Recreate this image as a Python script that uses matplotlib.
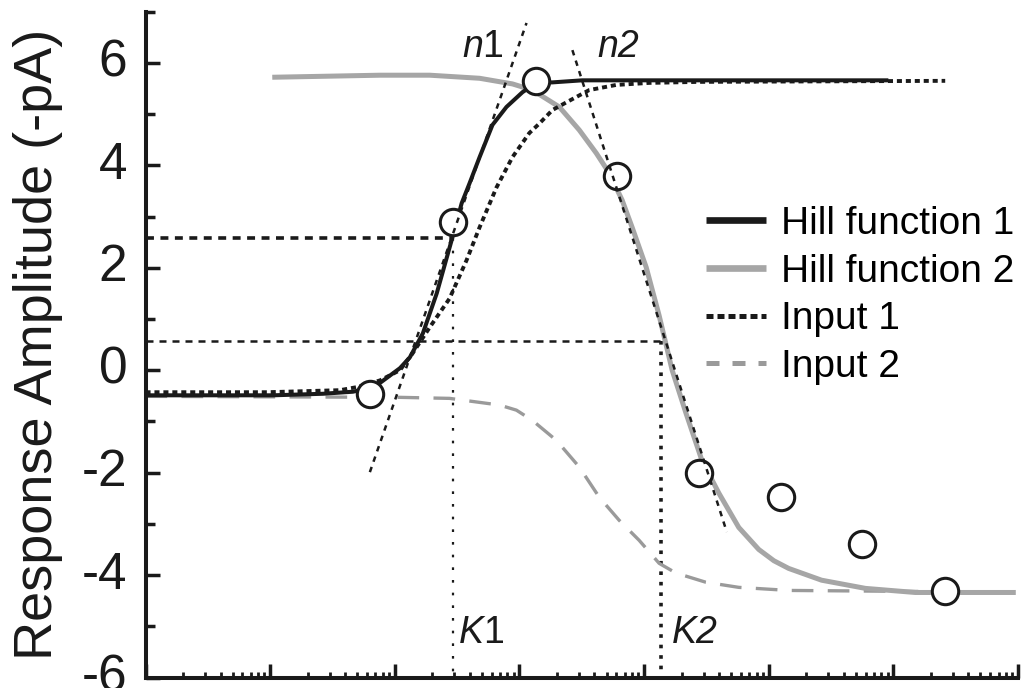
import matplotlib
matplotlib.use("Agg")
import matplotlib.pyplot as plt
from matplotlib.lines import Line2D
from matplotlib.ticker import LogLocator, MultipleLocator, NullFormatter

plt.rcParams["font.family"] = ["Liberation Sans", "DejaVu Sans"]
plt.rcParams["mathtext.fontset"] = "custom"
plt.rcParams["mathtext.rm"] = "Liberation Sans"
plt.rcParams["mathtext.it"] = "Liberation Sans:italic"
plt.rcParams["axes.unicode_minus"] = False
plt.rcParams["ytick.alignment"] = "center"

# ---- data -------------------------------------------------------------
# Hill function 1 (fit to the rising phase)
hill1_x = [0.01, 0.106, 0.265, 0.461, 0.631, 0.759, 1.10, 1.32, 1.68, 2.17,
           2.86, 3.44, 3.98, 4.79, 6.08, 7.87, 10.6, 13.7, 18.4, 31.9, 9120]
hill1_y = [-0.49, -0.49, -0.46, -0.42, -0.35, -0.25, 0.04, 0.25, 0.72, 1.50,
           2.54, 3.26, 3.65, 4.16, 4.79, 5.14, 5.43, 5.61, 5.62, 5.66, 5.66]

# Hill function 2 (fit to the falling phase)
hill2_x = [0.104, 0.759, 1.91, 4.79, 8.79, 12.7, 20.9, 30.2, 41.3, 52.5,
           66.7, 80.2, 104, 132, 168, 217, 291, 398, 575, 832, 1100, 1445,
           2655, 5970, 15000, 96000]
hill2_y = [5.72, 5.76, 5.76, 5.70, 5.59, 5.47, 5.14, 4.69, 4.24, 3.85,
           3.32, 2.79, 2.01, 1.07, 0.0, -0.84, -1.76, -2.40, -3.07, -3.50,
           -3.72, -3.87, -4.10, -4.26, -4.34, -4.34]

# Input 1
input1_x = [0.01, 0.0946, 0.363, 0.497, 0.759, 1.10, 1.39, 1.91, 2.75, 3.77,
            4.79, 6.55, 8.79, 12.0, 14.5, 18.4, 23.8, 36.3, 59.7, 110, 275,
            26060]
input1_y = [-0.43, -0.43, -0.39, -0.33, -0.20, 0.0, 0.33, 0.84, 1.40, 2.15,
            2.79, 3.57, 4.16, 4.63, 4.82, 5.08, 5.23, 5.47, 5.57, 5.61, 5.63,
            5.65]

# Input 2
input2_x = [0.01, 1.10, 2.75, 6.92, 9.46, 12.7, 19.8, 30.2, 43.7, 63.1,
            91.2, 132, 180, 313, 575, 1445, 15850]
input2_y = [-0.51, -0.53, -0.55, -0.68, -0.78, -0.98, -1.37, -1.89, -2.48,
            -2.93, -3.32, -3.77, -3.96, -4.14, -4.24, -4.30, -4.32]

# Measured responses
points_x = [0.631, 2.91, 13.7, 60.8, 275, 1247, 5649, 26060]
points_y = [-0.47, 2.89, 5.64, 3.79, -2.01, -2.48, -3.40, -4.32]

# Half-maximal concentrations and responses
K1, half1 = 2.91, 2.58
K2, half2 = 137.0, 0.57

# Slopes at the half-maximal points
n1_x = [0.631, 11.4]
n1_y = [-1.99, 6.78]
n2_x = [26.6, 461]
n2_y = [6.25, -3.16]

legend_labels = ["Hill function 1", "Hill function 2", "Input 1", "Input 2"]

# ---- figure -----------------------------------------------------------
BLACK = "#1a1a1a"
GREY = "#a6a6a6"
DGREY = "#9a9a9a"

fig = plt.figure(figsize=(10.29, 6.88), dpi=100)
ax = fig.add_axes([145.5 / 1029, 10.5 / 688, 872.5 / 1029, 665.8 / 688])
ax.set_xscale("log")
ax.set_xlim(0.01, 1e5)
ax.set_ylim(-6, 7)

# reference lines at K1 / K2
xmin = ax.get_xlim()[0]
ymin = ax.get_ylim()[0]
ax.plot([xmin, K1], [half1, half1], color=BLACK, lw=2.6, dashes=(2.2, 1.8), zorder=2)
ax.plot([K1, K1], [half1, ymin], color=BLACK, lw=1.6, dashes=(1.2, 4.5), zorder=2)
ax.plot([xmin, K2], [half2, half2], color=BLACK, lw=1.8, dashes=(2.8, 2.4), zorder=2)
ax.plot([K2, K2], [half2, ymin], color=BLACK, lw=2.6, dashes=(1.0, 1.9), zorder=2)

# curves
ax.plot(input2_x, input2_y, color=DGREY, lw=2.4, dashes=(6.5, 4.3), zorder=2)
ax.plot(hill2_x, hill2_y, color=GREY, lw=3.6, zorder=3, solid_capstyle="butt")
ax.plot(hill1_x, hill1_y, color=BLACK, lw=2.9, zorder=3, solid_capstyle="butt")
ax.plot(input1_x, input1_y, color=BLACK, lw=2.8, dashes=(1.3, 1.0), zorder=3)

# data points
ax.plot(points_x, points_y, ls="none", marker="o", ms=19, mfc="white",
        mec=BLACK, mew=2.2, zorder=5)

# slope lines
ax.plot(n1_x, n1_y, color=BLACK, lw=1.8, dashes=(2.2, 2.2), zorder=6)
ax.plot(n2_x, n2_y, color=BLACK, lw=1.8, dashes=(2.2, 2.2), zorder=6)

# annotations
ax.text(3.44, 6.11, r"$\mathit{n}$1", fontsize=27, color=BLACK, va="baseline")
ax.text(42.1, 6.11, "n2", fontsize=27, style="italic", color=BLACK, va="baseline")
ax.text(3.19, -5.33, r"$\mathit{K}$1", fontsize=27, color=BLACK, va="baseline")
ax.text(167.5, -5.33, "K2", fontsize=27, style="italic", color=BLACK, va="baseline")

# legend
handles = [
    Line2D([], [], color=BLACK, lw=4.8, solid_capstyle="butt"),
    Line2D([], [], color=GREY, lw=4.8, solid_capstyle="butt"),
    Line2D([], [], color=BLACK, lw=3.6, dashes=(1.4, 0.8)),
    Line2D([], [], color=DGREY, lw=3.6, dashes=(2.6, 2.6)),
]
ax.legend(handles, legend_labels, loc="upper left",
          bbox_to_anchor=(706 / 1029, 1 - 206 / 688),
          bbox_transform=fig.transFigure, frameon=False, fontsize=28,
          handlelength=1.55, handletextpad=0.38, labelspacing=0.3,
          borderpad=0, borderaxespad=0)

# axes styling
for side in ("top", "right"):
    ax.spines[side].set_visible(False)
for side in ("left", "bottom"):
    ax.spines[side].set_linewidth(2.9)
    ax.spines[side].set_color(BLACK)

ax.xaxis.set_major_locator(LogLocator(base=10, numticks=20))
ax.xaxis.set_minor_locator(LogLocator(base=10, subs=range(2, 10), numticks=20))
ax.xaxis.set_major_formatter(NullFormatter())
ax.xaxis.set_minor_formatter(NullFormatter())
ax.yaxis.set_major_locator(MultipleLocator(2))
ax.yaxis.set_minor_locator(MultipleLocator(1))

ax.tick_params(axis="both", which="major", direction="in", length=10,
               width=2.5, color=BLACK)
ax.tick_params(axis="y", which="minor", direction="in", length=6.5,
               width=2.5, color=BLACK)
ax.tick_params(axis="x", which="minor", direction="in", length=4,
               width=2, color=BLACK)
ax.tick_params(axis="y", labelsize=37, pad=13, labelcolor=BLACK)

ax.set_ylabel("Response Amplitude (-pA)", fontsize=39, color=BLACK)
ax.yaxis.set_label_coords(-0.095, 0.5)

fig.savefig("out.png", dpi=100)
